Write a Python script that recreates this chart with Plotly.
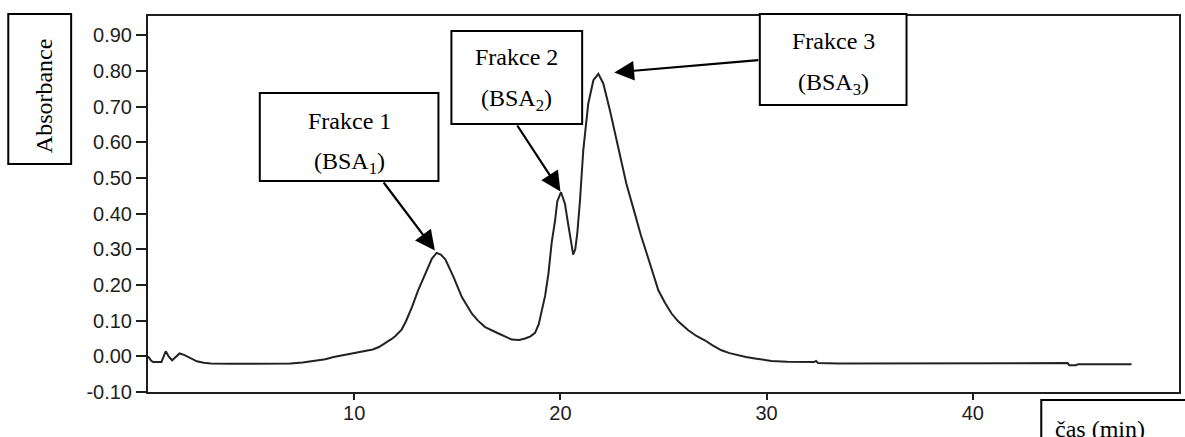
import plotly.graph_objects as go

# Elution profile: time (min) vs absorbance
time_min = [
    0.00, 0.15, 0.25, 0.65, 0.86, 1.00, 1.17, 1.35, 1.53, 1.75, 2.00, 2.37, 2.70, 3.05,
    4.00, 5.00, 6.00, 6.90, 7.50, 8.10, 8.60, 9.00, 9.50, 10.00, 10.50, 10.90, 11.20,
    11.50, 11.80, 12.00, 12.30, 12.50, 12.80, 13.10, 13.45, 13.77, 14.00, 14.20, 14.42,
    14.82, 15.22, 15.70, 16.00, 16.35, 17.00, 17.30, 17.64, 18.00, 18.29, 18.55, 18.77,
    18.95, 19.10, 19.26, 19.42, 19.58, 19.74, 19.85, 20.03, 20.22, 20.35, 20.47, 20.62,
    20.72, 20.82, 20.95, 21.11, 21.35, 21.60, 21.84, 22.08, 22.40, 22.80, 23.20, 23.61,
    23.90, 24.26, 24.75, 25.07, 25.39, 25.71, 26.20, 26.60, 27.00, 27.40, 27.81, 28.20,
    28.62, 29.00, 29.43, 30.23, 31.00, 32.30, 32.40, 32.50, 33.50, 35.00, 38.00, 41.00,
    44.50, 44.60, 44.68, 45.00, 45.10, 47.70,
]
absorbance = [
    0.000, -0.012, -0.016, -0.016, 0.014, 0.000, -0.011, 0.000, 0.008, 0.004, -0.003,
    -0.014, -0.018, -0.020, -0.021, -0.021, -0.021, -0.020, -0.017, -0.013, -0.008,
    -0.002, 0.004, 0.008, 0.014, 0.019, 0.026, 0.036, 0.048, 0.057, 0.075, 0.097, 0.138,
    0.185, 0.232, 0.274, 0.290, 0.285, 0.272, 0.222, 0.166, 0.120, 0.100, 0.082, 0.064,
    0.056, 0.047, 0.046, 0.050, 0.056, 0.066, 0.090, 0.125, 0.170, 0.232, 0.320, 0.380,
    0.435, 0.460, 0.428, 0.380, 0.335, 0.285, 0.300, 0.345, 0.437, 0.578, 0.708, 0.774,
    0.792, 0.765, 0.690, 0.587, 0.484, 0.400, 0.340, 0.275, 0.185, 0.150, 0.120, 0.098,
    0.073, 0.057, 0.045, 0.030, 0.017, 0.009, 0.003, -0.002, -0.006, -0.013, -0.015,
    -0.016, -0.013, -0.019, -0.020, -0.020, -0.020, -0.021, -0.021, -0.019, -0.025,
    -0.025, -0.022, -0.022,
]

x_tick_values = [10, 20, 30, 40]
y_tick_values = [-0.10, 0.00, 0.10, 0.20, 0.30, 0.40, 0.50, 0.60, 0.70, 0.80, 0.90]
y_tick_labels = ["-0.10", "0.00", "0.10", "0.20", "0.30", "0.40", "0.50", "0.60",
                 "0.70", "0.80", "0.90"]

fraction_titles = ["Frakce 1", "Frakce 2", "Frakce 3"]
fraction_subtitles = ["(BSA<sub>1</sub>)", "(BSA<sub>2</sub>)", "(BSA<sub>3</sub>)"]
# time windows in which each fraction's maximum is searched
fraction_windows = [(12.0, 17.0), (19.5, 20.5), (21.0, 23.0)]

y_axis_title = "Absorbance"
x_axis_title = "čas (min)"

# ---- layout geometry (pixels) ----
FIG_W, FIG_H = 1185, 437
M_L, M_R, M_T, M_B = 148, 4, 16, 45
PLOT_L, PLOT_R = M_L, FIG_W - M_R
PLOT_T, PLOT_B = M_T, FIG_H - M_B
X_RANGE = [0, 50]
Y_RANGE = [-0.10, 0.954]

INK = "#1e1e1e"
TICK_FONT = dict(family="Liberation Sans, Arial, sans-serif", size=20, color=INK)
TEXT_FONT = dict(family="Liberation Serif, Times New Roman, serif", size=24, color="black")


def paper_x(px):
    return (px - PLOT_L) / (PLOT_R - PLOT_L)


def paper_y(py):
    return (PLOT_B - py) / (PLOT_B - PLOT_T)


def data_x(px):
    return X_RANGE[0] + paper_x(px) * (X_RANGE[1] - X_RANGE[0])


def data_y(py):
    return Y_RANGE[0] + paper_y(py) * (Y_RANGE[1] - Y_RANGE[0])


def peak_in(window):
    lo, hi = window
    pts = [(a, t) for t, a in zip(time_min, absorbance) if lo <= t <= hi]
    a, t = max(pts)
    return t, a


fig = go.Figure()
fig.add_trace(go.Scatter(
    x=time_min, y=absorbance, mode="lines",
    line=dict(color="#222222", width=2),
    hoverinfo="skip", showlegend=False,
))

shapes = []
annotations = []


def box(x0, y0, x1, y1):
    shapes.append(dict(
        type="rect", xref="paper", yref="paper",
        x0=paper_x(x0), x1=paper_x(x1), y0=paper_y(y1), y1=paper_y(y0),
        line=dict(color="black", width=2), fillcolor="white", layer="above",
    ))


def text(px, py, s, xanchor="center", angle=0):
    annotations.append(dict(
        xref="paper", yref="paper", x=paper_x(px), y=paper_y(py),
        text=s, showarrow=False, xanchor=xanchor, yanchor="middle",
        textangle=angle, font=TEXT_FONT,
    ))


# y-axis title box
box(8, 14, 71, 164)
text(44, 96, y_axis_title, angle=-90)

# x-axis title box
box(1043, 400, 1200, 450)
text(1055, 429, x_axis_title, xanchor="left")

# fraction label boxes: (x0, y0, x1, y1), line centres, arrow tail, standoff
label_boxes = [
    ((260, 93, 439, 181), (121, 163), (383, 181), 3),
    ((452, 31, 583, 124), (57, 100), (517, 124), 1),
    ((761, 14, 908, 105), (41, 84), (761, 60), 16),
]
for i, ((x0, y0, x1, y1), (l1, l2), tail, stand) in enumerate(label_boxes):
    box(x0, y0, x1, y1)
    cx = (x0 + x1) / 2
    text(cx, l1, fraction_titles[i])
    text(cx, l2, fraction_subtitles[i])
    tx, ty = peak_in(fraction_windows[i])
    annotations.append(dict(
        x=tx, y=ty, xref="x", yref="y",
        ax=data_x(tail[0]), ay=data_y(tail[1]), axref="x", ayref="y",
        text="", showarrow=True, arrowhead=2, arrowsize=1.8, arrowwidth=2.2,
        arrowcolor="black", standoff=stand,
    ))

axis_common = dict(
    showline=True, linewidth=2, linecolor=INK, mirror=True,
    ticks="outside", tickwidth=2, tickcolor=INK,
    showgrid=False, zeroline=False, tickfont=TICK_FONT,
)

fig.update_layout(
    width=FIG_W, height=FIG_H,
    margin=dict(l=M_L, r=M_R, t=M_T, b=M_B, pad=0),
    paper_bgcolor="white", plot_bgcolor="white",
    xaxis=dict(range=X_RANGE, tickvals=x_tick_values, ticklen=6,
               ticklabelstandoff=-4, **axis_common),
    yaxis=dict(range=Y_RANGE, tickvals=y_tick_values, ticktext=y_tick_labels,
               ticklen=10, **axis_common),
    shapes=shapes, annotations=annotations,
)

fig.write_html("out.html")
